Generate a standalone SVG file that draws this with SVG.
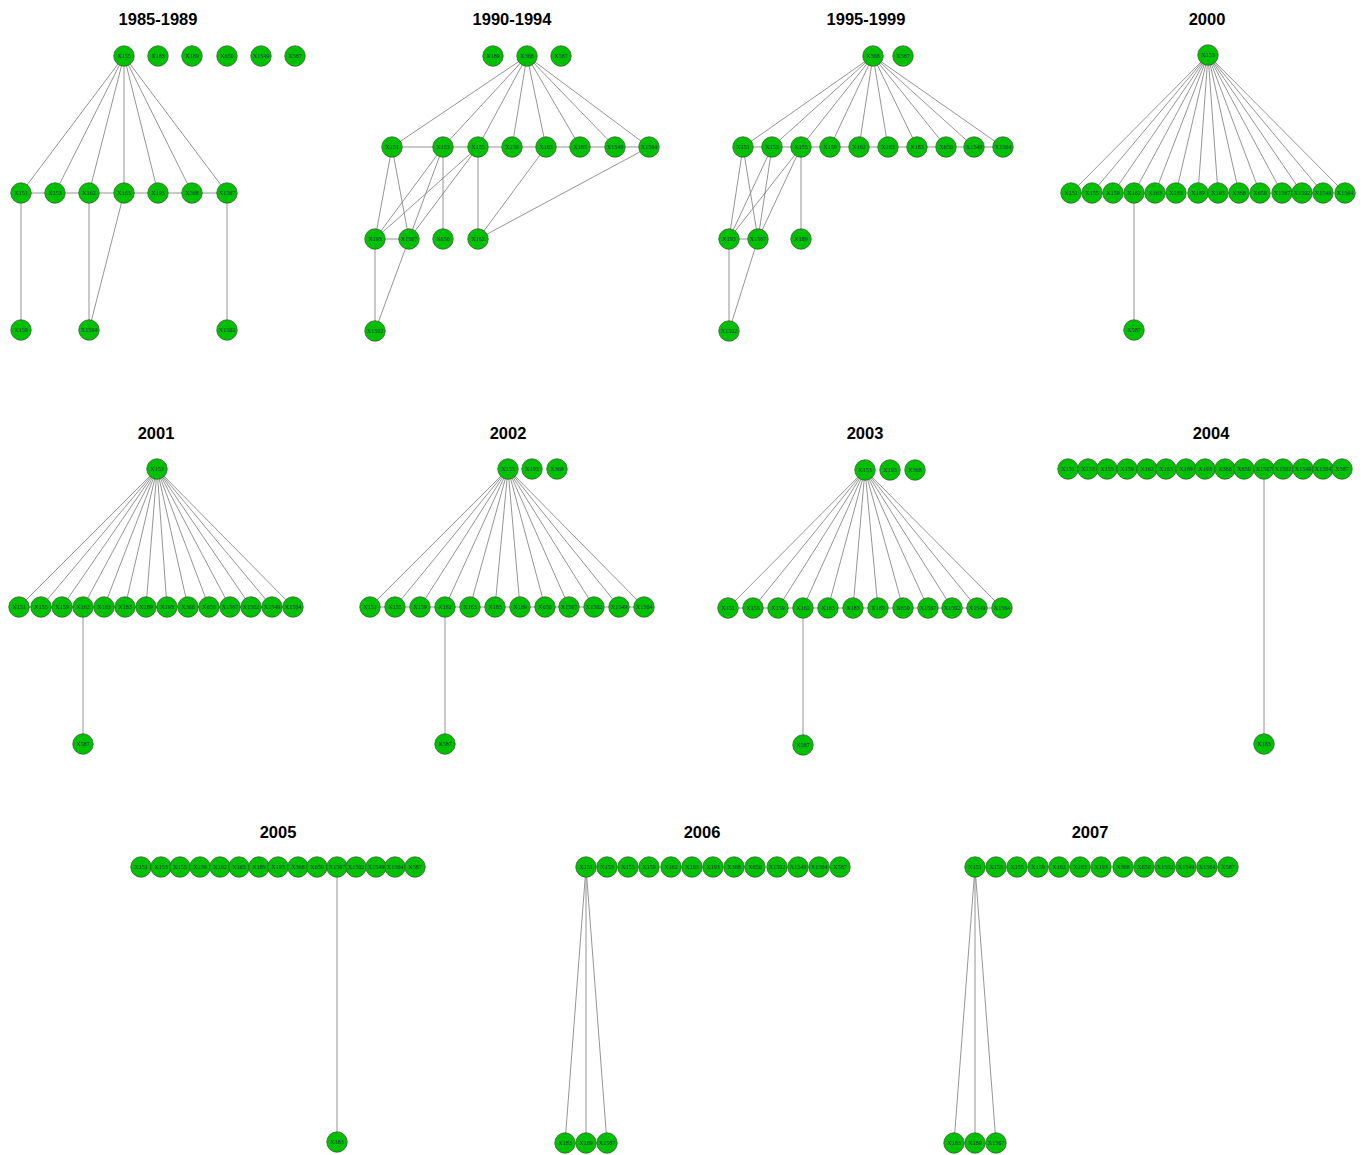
<svg xmlns="http://www.w3.org/2000/svg" width="1365" height="1155" viewBox="0 0 1365 1155">
<style>
.t{font-family:"Liberation Sans",Arial,sans-serif;font-weight:bold;font-size:16.5px;text-anchor:middle;fill:#000}
circle{fill:#00c000;stroke:#3d3d3d;stroke-width:0.6}
.n text{font-family:"Liberation Serif","Times New Roman",serif;font-size:6px;text-anchor:middle;fill:#1f2a5a}
#edges line{stroke:#7a7a7a;stroke-width:0.8}
</style>
<rect width="1365" height="1155" fill="#fff"/>
<g id="titles">
<text class="t" x="158" y="25">1985-1989</text>
<text class="t" x="512" y="25">1990-1994</text>
<text class="t" x="866" y="25">1995-1999</text>
<text class="t" x="1207" y="25">2000</text>
<text class="t" x="156" y="439">2001</text>
<text class="t" x="508" y="439">2002</text>
<text class="t" x="865" y="439">2003</text>
<text class="t" x="1211" y="439">2004</text>
<text class="t" x="278" y="838">2005</text>
<text class="t" x="702" y="838">2006</text>
<text class="t" x="1090" y="838">2007</text>
</g>
<g id="edges">
<line x1="124" y1="56" x2="21" y2="193"/><line x1="124" y1="56" x2="55" y2="193"/><line x1="124" y1="56" x2="89" y2="193"/><line x1="124" y1="56" x2="124" y2="193"/><line x1="124" y1="56" x2="158" y2="193"/><line x1="124" y1="56" x2="192" y2="193"/><line x1="124" y1="56" x2="227" y2="193"/>
<line x1="21" y1="193" x2="227" y2="193"/>
<line x1="21" y1="193" x2="21" y2="330"/><line x1="89" y1="193" x2="89" y2="330"/><line x1="124" y1="193" x2="89" y2="330"/><line x1="227" y1="193" x2="227" y2="330"/>
<line x1="527" y1="56" x2="392" y2="147"/><line x1="527" y1="56" x2="443" y2="147"/><line x1="527" y1="56" x2="478" y2="147"/><line x1="527" y1="56" x2="512" y2="147"/><line x1="527" y1="56" x2="546" y2="147"/><line x1="527" y1="56" x2="580" y2="147"/><line x1="527" y1="56" x2="615" y2="147"/><line x1="527" y1="56" x2="649" y2="147"/>
<line x1="392" y1="147" x2="649" y2="147"/>
<line x1="392" y1="147" x2="375" y2="239"/><line x1="392" y1="147" x2="409" y2="239"/>
<line x1="443" y1="147" x2="375" y2="239"/><line x1="443" y1="147" x2="409" y2="239"/><line x1="443" y1="147" x2="443" y2="239"/>
<line x1="478" y1="147" x2="375" y2="239"/><line x1="478" y1="147" x2="409" y2="239"/><line x1="478" y1="147" x2="478" y2="239"/>
<line x1="546" y1="147" x2="478" y2="239"/><line x1="649" y1="147" x2="478" y2="239"/>
<line x1="375" y1="239" x2="409" y2="239"/><line x1="375" y1="239" x2="375" y2="331"/><line x1="409" y1="239" x2="375" y2="331"/>
<line x1="873" y1="56" x2="743" y2="147"/><line x1="873" y1="56" x2="772" y2="147"/><line x1="873" y1="56" x2="801" y2="147"/><line x1="873" y1="56" x2="830" y2="147"/><line x1="873" y1="56" x2="859" y2="147"/><line x1="873" y1="56" x2="888" y2="147"/><line x1="873" y1="56" x2="917" y2="147"/><line x1="873" y1="56" x2="946" y2="147"/><line x1="873" y1="56" x2="974" y2="147"/><line x1="873" y1="56" x2="1003" y2="147"/>
<line x1="743" y1="147" x2="1003" y2="147"/>
<line x1="743" y1="147" x2="729" y2="239"/><line x1="743" y1="147" x2="758" y2="239"/>
<line x1="772" y1="147" x2="729" y2="239"/><line x1="772" y1="147" x2="758" y2="239"/>
<line x1="801" y1="147" x2="729" y2="239"/><line x1="801" y1="147" x2="758" y2="239"/><line x1="801" y1="147" x2="801" y2="239"/>
<line x1="729" y1="239" x2="758" y2="239"/><line x1="729" y1="239" x2="729" y2="331"/><line x1="758" y1="239" x2="729" y2="331"/>
<line x1="1208" y1="55" x2="1071" y2="193"/><line x1="1208" y1="55" x2="1092" y2="193"/><line x1="1208" y1="55" x2="1113" y2="193"/><line x1="1208" y1="55" x2="1134" y2="193"/><line x1="1208" y1="55" x2="1155" y2="193"/><line x1="1208" y1="55" x2="1176" y2="193"/><line x1="1208" y1="55" x2="1198" y2="193"/><line x1="1208" y1="55" x2="1218" y2="193"/><line x1="1208" y1="55" x2="1239" y2="193"/><line x1="1208" y1="55" x2="1260" y2="193"/><line x1="1208" y1="55" x2="1282" y2="193"/><line x1="1208" y1="55" x2="1302" y2="193"/><line x1="1208" y1="55" x2="1323" y2="193"/><line x1="1208" y1="55" x2="1345" y2="193"/>
<line x1="1134" y1="193" x2="1134" y2="330"/>
<line x1="157" y1="469" x2="19" y2="607"/><line x1="157" y1="469" x2="41" y2="607"/><line x1="157" y1="469" x2="62" y2="607"/><line x1="157" y1="469" x2="83" y2="607"/><line x1="157" y1="469" x2="104" y2="607"/><line x1="157" y1="469" x2="125" y2="607"/><line x1="157" y1="469" x2="146" y2="607"/><line x1="157" y1="469" x2="167" y2="607"/><line x1="157" y1="469" x2="188" y2="607"/><line x1="157" y1="469" x2="209" y2="607"/><line x1="157" y1="469" x2="230" y2="607"/><line x1="157" y1="469" x2="251" y2="607"/><line x1="157" y1="469" x2="272" y2="607"/><line x1="157" y1="469" x2="293" y2="607"/>
<line x1="19" y1="607" x2="293" y2="607"/>
<line x1="83" y1="607" x2="83" y2="744"/>
<line x1="508" y1="469" x2="370" y2="607"/><line x1="508" y1="469" x2="395" y2="607"/><line x1="508" y1="469" x2="420" y2="607"/><line x1="508" y1="469" x2="445" y2="607"/><line x1="508" y1="469" x2="470" y2="607"/><line x1="508" y1="469" x2="495" y2="607"/><line x1="508" y1="469" x2="520" y2="607"/><line x1="508" y1="469" x2="545" y2="607"/><line x1="508" y1="469" x2="569" y2="607"/><line x1="508" y1="469" x2="594" y2="607"/><line x1="508" y1="469" x2="619" y2="607"/><line x1="508" y1="469" x2="644" y2="607"/>
<line x1="370" y1="607" x2="644" y2="607"/>
<line x1="445" y1="607" x2="445" y2="744"/>
<line x1="865" y1="470" x2="728" y2="608"/><line x1="865" y1="470" x2="753" y2="608"/><line x1="865" y1="470" x2="778" y2="608"/><line x1="865" y1="470" x2="803" y2="608"/><line x1="865" y1="470" x2="828" y2="608"/><line x1="865" y1="470" x2="853" y2="608"/><line x1="865" y1="470" x2="878" y2="608"/><line x1="865" y1="470" x2="903" y2="608"/><line x1="865" y1="470" x2="928" y2="608"/><line x1="865" y1="470" x2="952" y2="608"/><line x1="865" y1="470" x2="977" y2="608"/><line x1="865" y1="470" x2="1002" y2="608"/>
<line x1="728" y1="608" x2="1002" y2="608"/>
<line x1="803" y1="608" x2="803" y2="745"/>
<line x1="1264" y1="469" x2="1264" y2="744"/>
<line x1="337" y1="867" x2="337" y2="1142"/>
<line x1="586" y1="867" x2="565" y2="1143"/><line x1="586" y1="867" x2="586" y2="1143"/><line x1="586" y1="867" x2="607" y2="1143"/>
<line x1="975" y1="867" x2="954" y2="1143"/><line x1="975" y1="867" x2="975" y2="1143"/><line x1="975" y1="867" x2="996" y2="1143"/>
</g>
<g id="nodes-1985" class="n">
<g id="p1-X155"><circle cx="124" cy="56" r="10.3"/><text x="124" y="58">X155</text></g>
<g id="p1-X183"><circle cx="158" cy="56" r="10.3"/><text x="158" y="58">X183</text></g>
<g id="p1-X189"><circle cx="192" cy="56" r="10.3"/><text x="192" y="58">X189</text></g>
<g id="p1-X650"><circle cx="227" cy="56" r="10.3"/><text x="227" y="58">X650</text></g>
<g id="p1-X1549"><circle cx="261" cy="56" r="10.3"/><text x="261" y="58">X1549</text></g>
<g id="p1-X587"><circle cx="295" cy="56" r="10.3"/><text x="295" y="58">X587</text></g>
<g id="p1-X151"><circle cx="21" cy="193" r="10.3"/><text x="21" y="195">X151</text></g>
<g id="p1-X153"><circle cx="55" cy="193" r="10.3"/><text x="55" y="195">X153</text></g>
<g id="p1-X162"><circle cx="89" cy="193" r="10.3"/><text x="89" y="195">X162</text></g>
<g id="p1-X163"><circle cx="124" cy="193" r="10.3"/><text x="124" y="195">X163</text></g>
<g id="p1-X193"><circle cx="158" cy="193" r="10.3"/><text x="158" y="195">X193</text></g>
<g id="p1-X368"><circle cx="192" cy="193" r="10.3"/><text x="192" y="195">X368</text></g>
<g id="p1-X1567"><circle cx="227" cy="193" r="10.3"/><text x="227" y="195">X1567</text></g>
<g id="p1-X159"><circle cx="21" cy="330" r="10.3"/><text x="21" y="332">X159</text></g>
<g id="p1-X1564"><circle cx="89" cy="330" r="10.3"/><text x="89" y="332">X1564</text></g>
<g id="p1-X1502"><circle cx="227" cy="330" r="10.3"/><text x="227" y="332">X1502</text></g>
</g>
<g id="nodes-1990" class="n">
<g id="p2-X189"><circle cx="493" cy="56" r="10.3"/><text x="493" y="58">X189</text></g>
<g id="p2-X368"><circle cx="527" cy="56" r="10.3"/><text x="527" y="58">X368</text></g>
<g id="p2-X587"><circle cx="561" cy="56" r="10.3"/><text x="561" y="58">X587</text></g>
<g id="p2-X151"><circle cx="392" cy="147" r="10.3"/><text x="392" y="149">X151</text></g>
<g id="p2-X153"><circle cx="443" cy="147" r="10.3"/><text x="443" y="149">X153</text></g>
<g id="p2-X155"><circle cx="478" cy="147" r="10.3"/><text x="478" y="149">X155</text></g>
<g id="p2-X159"><circle cx="512" cy="147" r="10.3"/><text x="512" y="149">X159</text></g>
<g id="p2-X163"><circle cx="546" cy="147" r="10.3"/><text x="546" y="149">X163</text></g>
<g id="p2-X183"><circle cx="580" cy="147" r="10.3"/><text x="580" y="149">X183</text></g>
<g id="p2-X1549"><circle cx="615" cy="147" r="10.3"/><text x="615" y="149">X1549</text></g>
<g id="p2-X1564"><circle cx="649" cy="147" r="10.3"/><text x="649" y="149">X1564</text></g>
<g id="p2-X193"><circle cx="375" cy="239" r="10.3"/><text x="375" y="241">X193</text></g>
<g id="p2-X1567"><circle cx="409" cy="239" r="10.3"/><text x="409" y="241">X1567</text></g>
<g id="p2-X650"><circle cx="443" cy="239" r="10.3"/><text x="443" y="241">X650</text></g>
<g id="p2-X162"><circle cx="478" cy="239" r="10.3"/><text x="478" y="241">X162</text></g>
<g id="p2-X1502"><circle cx="375" cy="331" r="10.3"/><text x="375" y="333">X1502</text></g>
</g>
<g id="nodes-1995" class="n">
<g id="p3-X368"><circle cx="873" cy="56" r="10.3"/><text x="873" y="58">X368</text></g>
<g id="p3-X587"><circle cx="903" cy="56" r="10.3"/><text x="903" y="58">X587</text></g>
<g id="p3-X151"><circle cx="743" cy="147" r="10.3"/><text x="743" y="149">X151</text></g>
<g id="p3-X153"><circle cx="772" cy="147" r="10.3"/><text x="772" y="149">X153</text></g>
<g id="p3-X155"><circle cx="801" cy="147" r="10.3"/><text x="801" y="149">X155</text></g>
<g id="p3-X159"><circle cx="830" cy="147" r="10.3"/><text x="830" y="149">X159</text></g>
<g id="p3-X162"><circle cx="859" cy="147" r="10.3"/><text x="859" y="149">X162</text></g>
<g id="p3-X163"><circle cx="888" cy="147" r="10.3"/><text x="888" y="149">X163</text></g>
<g id="p3-X183"><circle cx="917" cy="147" r="10.3"/><text x="917" y="149">X183</text></g>
<g id="p3-X650"><circle cx="946" cy="147" r="10.3"/><text x="946" y="149">X650</text></g>
<g id="p3-X1549"><circle cx="974" cy="147" r="10.3"/><text x="974" y="149">X1549</text></g>
<g id="p3-X1564"><circle cx="1003" cy="147" r="10.3"/><text x="1003" y="149">X1564</text></g>
<g id="p3-X193"><circle cx="729" cy="239" r="10.3"/><text x="729" y="241">X193</text></g>
<g id="p3-X1567"><circle cx="758" cy="239" r="10.3"/><text x="758" y="241">X1567</text></g>
<g id="p3-X189"><circle cx="801" cy="239" r="10.3"/><text x="801" y="241">X189</text></g>
<g id="p3-X1502"><circle cx="729" cy="331" r="10.3"/><text x="729" y="333">X1502</text></g>
</g>
<g id="nodes-2000" class="n">
<g id="p4-X153"><circle cx="1208" cy="55" r="10.3"/><text x="1208" y="57">X153</text></g>
<g id="p4-X151"><circle cx="1071" cy="193" r="10.3"/><text x="1071" y="195">X151</text></g>
<g id="p4-X155"><circle cx="1092" cy="193" r="10.3"/><text x="1092" y="195">X155</text></g>
<g id="p4-X159"><circle cx="1113" cy="193" r="10.3"/><text x="1113" y="195">X159</text></g>
<g id="p4-X162"><circle cx="1134" cy="193" r="10.3"/><text x="1134" y="195">X162</text></g>
<g id="p4-X163"><circle cx="1155" cy="193" r="10.3"/><text x="1155" y="195">X163</text></g>
<g id="p4-X183"><circle cx="1176" cy="193" r="10.3"/><text x="1176" y="195">X183</text></g>
<g id="p4-X189"><circle cx="1198" cy="193" r="10.3"/><text x="1198" y="195">X189</text></g>
<g id="p4-X193"><circle cx="1218" cy="193" r="10.3"/><text x="1218" y="195">X193</text></g>
<g id="p4-X368"><circle cx="1239" cy="193" r="10.3"/><text x="1239" y="195">X368</text></g>
<g id="p4-X650"><circle cx="1260" cy="193" r="10.3"/><text x="1260" y="195">X650</text></g>
<g id="p4-X1567"><circle cx="1282" cy="193" r="10.3"/><text x="1282" y="195">X1567</text></g>
<g id="p4-X1502"><circle cx="1302" cy="193" r="10.3"/><text x="1302" y="195">X1502</text></g>
<g id="p4-X1549"><circle cx="1323" cy="193" r="10.3"/><text x="1323" y="195">X1549</text></g>
<g id="p4-X1564"><circle cx="1345" cy="193" r="10.3"/><text x="1345" y="195">X1564</text></g>
<g id="p4-X587"><circle cx="1134" cy="330" r="10.3"/><text x="1134" y="332">X587</text></g>
</g>
<g id="nodes-2001" class="n">
<g id="p5-X153"><circle cx="157" cy="469" r="10.3"/><text x="157" y="471">X153</text></g>
<g id="p5-X151"><circle cx="19" cy="607" r="10.3"/><text x="19" y="609">X151</text></g>
<g id="p5-X155"><circle cx="41" cy="607" r="10.3"/><text x="41" y="609">X155</text></g>
<g id="p5-X159"><circle cx="62" cy="607" r="10.3"/><text x="62" y="609">X159</text></g>
<g id="p5-X162"><circle cx="83" cy="607" r="10.3"/><text x="83" y="609">X162</text></g>
<g id="p5-X163"><circle cx="104" cy="607" r="10.3"/><text x="104" y="609">X163</text></g>
<g id="p5-X183"><circle cx="125" cy="607" r="10.3"/><text x="125" y="609">X183</text></g>
<g id="p5-X189"><circle cx="146" cy="607" r="10.3"/><text x="146" y="609">X189</text></g>
<g id="p5-X193"><circle cx="167" cy="607" r="10.3"/><text x="167" y="609">X193</text></g>
<g id="p5-X368"><circle cx="188" cy="607" r="10.3"/><text x="188" y="609">X368</text></g>
<g id="p5-X650"><circle cx="209" cy="607" r="10.3"/><text x="209" y="609">X650</text></g>
<g id="p5-X1567"><circle cx="230" cy="607" r="10.3"/><text x="230" y="609">X1567</text></g>
<g id="p5-X1502"><circle cx="251" cy="607" r="10.3"/><text x="251" y="609">X1502</text></g>
<g id="p5-X1549"><circle cx="272" cy="607" r="10.3"/><text x="272" y="609">X1549</text></g>
<g id="p5-X1564"><circle cx="293" cy="607" r="10.3"/><text x="293" y="609">X1564</text></g>
<g id="p5-X587"><circle cx="83" cy="744" r="10.3"/><text x="83" y="746">X587</text></g>
</g>
<g id="nodes-2002" class="n">
<g id="p6-X153"><circle cx="508" cy="469" r="10.3"/><text x="508" y="471">X153</text></g>
<g id="p6-X193"><circle cx="532" cy="469" r="10.3"/><text x="532" y="471">X193</text></g>
<g id="p6-X368"><circle cx="557" cy="469" r="10.3"/><text x="557" y="471">X368</text></g>
<g id="p6-X151"><circle cx="370" cy="607" r="10.3"/><text x="370" y="609">X151</text></g>
<g id="p6-X155"><circle cx="395" cy="607" r="10.3"/><text x="395" y="609">X155</text></g>
<g id="p6-X159"><circle cx="420" cy="607" r="10.3"/><text x="420" y="609">X159</text></g>
<g id="p6-X162"><circle cx="445" cy="607" r="10.3"/><text x="445" y="609">X162</text></g>
<g id="p6-X163"><circle cx="470" cy="607" r="10.3"/><text x="470" y="609">X163</text></g>
<g id="p6-X183"><circle cx="495" cy="607" r="10.3"/><text x="495" y="609">X183</text></g>
<g id="p6-X189"><circle cx="520" cy="607" r="10.3"/><text x="520" y="609">X189</text></g>
<g id="p6-X650"><circle cx="545" cy="607" r="10.3"/><text x="545" y="609">X650</text></g>
<g id="p6-X1567"><circle cx="569" cy="607" r="10.3"/><text x="569" y="609">X1567</text></g>
<g id="p6-X1502"><circle cx="594" cy="607" r="10.3"/><text x="594" y="609">X1502</text></g>
<g id="p6-X1549"><circle cx="619" cy="607" r="10.3"/><text x="619" y="609">X1549</text></g>
<g id="p6-X1564"><circle cx="644" cy="607" r="10.3"/><text x="644" y="609">X1564</text></g>
<g id="p6-X587"><circle cx="445" cy="744" r="10.3"/><text x="445" y="746">X587</text></g>
</g>
<g id="nodes-2003" class="n">
<g id="p7-X153"><circle cx="865" cy="470" r="10.3"/><text x="865" y="472">X153</text></g>
<g id="p7-X193"><circle cx="890" cy="470" r="10.3"/><text x="890" y="472">X193</text></g>
<g id="p7-X368"><circle cx="915" cy="470" r="10.3"/><text x="915" y="472">X368</text></g>
<g id="p7-X151"><circle cx="728" cy="608" r="10.3"/><text x="728" y="610">X151</text></g>
<g id="p7-X155"><circle cx="753" cy="608" r="10.3"/><text x="753" y="610">X155</text></g>
<g id="p7-X159"><circle cx="778" cy="608" r="10.3"/><text x="778" y="610">X159</text></g>
<g id="p7-X162"><circle cx="803" cy="608" r="10.3"/><text x="803" y="610">X162</text></g>
<g id="p7-X163"><circle cx="828" cy="608" r="10.3"/><text x="828" y="610">X163</text></g>
<g id="p7-X183"><circle cx="853" cy="608" r="10.3"/><text x="853" y="610">X183</text></g>
<g id="p7-X189"><circle cx="878" cy="608" r="10.3"/><text x="878" y="610">X189</text></g>
<g id="p7-X650"><circle cx="903" cy="608" r="10.3"/><text x="903" y="610">X650</text></g>
<g id="p7-X1567"><circle cx="928" cy="608" r="10.3"/><text x="928" y="610">X1567</text></g>
<g id="p7-X1502"><circle cx="952" cy="608" r="10.3"/><text x="952" y="610">X1502</text></g>
<g id="p7-X1549"><circle cx="977" cy="608" r="10.3"/><text x="977" y="610">X1549</text></g>
<g id="p7-X1564"><circle cx="1002" cy="608" r="10.3"/><text x="1002" y="610">X1564</text></g>
<g id="p7-X587"><circle cx="803" cy="745" r="10.3"/><text x="803" y="747">X587</text></g>
</g>
<g id="nodes-2004" class="n">
<g id="p8-X151"><circle cx="1068" cy="469" r="10.3"/><text x="1068" y="471">X151</text></g>
<g id="p8-X153"><circle cx="1088" cy="469" r="10.3"/><text x="1088" y="471">X153</text></g>
<g id="p8-X155"><circle cx="1107" cy="469" r="10.3"/><text x="1107" y="471">X155</text></g>
<g id="p8-X159"><circle cx="1127" cy="469" r="10.3"/><text x="1127" y="471">X159</text></g>
<g id="p8-X162"><circle cx="1147" cy="469" r="10.3"/><text x="1147" y="471">X162</text></g>
<g id="p8-X163"><circle cx="1166" cy="469" r="10.3"/><text x="1166" y="471">X163</text></g>
<g id="p8-X189"><circle cx="1186" cy="469" r="10.3"/><text x="1186" y="471">X189</text></g>
<g id="p8-X193"><circle cx="1205" cy="469" r="10.3"/><text x="1205" y="471">X193</text></g>
<g id="p8-X368"><circle cx="1225" cy="469" r="10.3"/><text x="1225" y="471">X368</text></g>
<g id="p8-X650"><circle cx="1244" cy="469" r="10.3"/><text x="1244" y="471">X650</text></g>
<g id="p8-X1567"><circle cx="1264" cy="469" r="10.3"/><text x="1264" y="471">X1567</text></g>
<g id="p8-X1502"><circle cx="1283" cy="469" r="10.3"/><text x="1283" y="471">X1502</text></g>
<g id="p8-X1549"><circle cx="1303" cy="469" r="10.3"/><text x="1303" y="471">X1549</text></g>
<g id="p8-X1564"><circle cx="1323" cy="469" r="10.3"/><text x="1323" y="471">X1564</text></g>
<g id="p8-X587"><circle cx="1342" cy="469" r="10.3"/><text x="1342" y="471">X587</text></g>
<g id="p8-X183"><circle cx="1264" cy="744" r="10.3"/><text x="1264" y="746">X183</text></g>
</g>
<g id="nodes-2005" class="n">
<g id="p9-X151"><circle cx="141" cy="867" r="10.3"/><text x="141" y="869">X151</text></g>
<g id="p9-X153"><circle cx="161" cy="867" r="10.3"/><text x="161" y="869">X153</text></g>
<g id="p9-X155"><circle cx="180" cy="867" r="10.3"/><text x="180" y="869">X155</text></g>
<g id="p9-X159"><circle cx="200" cy="867" r="10.3"/><text x="200" y="869">X159</text></g>
<g id="p9-X162"><circle cx="220" cy="867" r="10.3"/><text x="220" y="869">X162</text></g>
<g id="p9-X163"><circle cx="239" cy="867" r="10.3"/><text x="239" y="869">X163</text></g>
<g id="p9-X189"><circle cx="259" cy="867" r="10.3"/><text x="259" y="869">X189</text></g>
<g id="p9-X193"><circle cx="278" cy="867" r="10.3"/><text x="278" y="869">X193</text></g>
<g id="p9-X368"><circle cx="298" cy="867" r="10.3"/><text x="298" y="869">X368</text></g>
<g id="p9-X650"><circle cx="317" cy="867" r="10.3"/><text x="317" y="869">X650</text></g>
<g id="p9-X1567"><circle cx="337" cy="867" r="10.3"/><text x="337" y="869">X1567</text></g>
<g id="p9-X1502"><circle cx="356" cy="867" r="10.3"/><text x="356" y="869">X1502</text></g>
<g id="p9-X1549"><circle cx="376" cy="867" r="10.3"/><text x="376" y="869">X1549</text></g>
<g id="p9-X1564"><circle cx="395" cy="867" r="10.3"/><text x="395" y="869">X1564</text></g>
<g id="p9-X587"><circle cx="415" cy="867" r="10.3"/><text x="415" y="869">X587</text></g>
<g id="p9-X183"><circle cx="337" cy="1142" r="10.3"/><text x="337" y="1144">X183</text></g>
</g>
<g id="nodes-2006" class="n">
<g id="p10-X151"><circle cx="586" cy="867" r="10.3"/><text x="586" y="869">X151</text></g>
<g id="p10-X153"><circle cx="607" cy="867" r="10.3"/><text x="607" y="869">X153</text></g>
<g id="p10-X155"><circle cx="628" cy="867" r="10.3"/><text x="628" y="869">X155</text></g>
<g id="p10-X159"><circle cx="649" cy="867" r="10.3"/><text x="649" y="869">X159</text></g>
<g id="p10-X162"><circle cx="671" cy="867" r="10.3"/><text x="671" y="869">X162</text></g>
<g id="p10-X163"><circle cx="692" cy="867" r="10.3"/><text x="692" y="869">X163</text></g>
<g id="p10-X193"><circle cx="713" cy="867" r="10.3"/><text x="713" y="869">X193</text></g>
<g id="p10-X368"><circle cx="734" cy="867" r="10.3"/><text x="734" y="869">X368</text></g>
<g id="p10-X650"><circle cx="755" cy="867" r="10.3"/><text x="755" y="869">X650</text></g>
<g id="p10-X1502"><circle cx="777" cy="867" r="10.3"/><text x="777" y="869">X1502</text></g>
<g id="p10-X1549"><circle cx="798" cy="867" r="10.3"/><text x="798" y="869">X1549</text></g>
<g id="p10-X1564"><circle cx="819" cy="867" r="10.3"/><text x="819" y="869">X1564</text></g>
<g id="p10-X587"><circle cx="840" cy="867" r="10.3"/><text x="840" y="869">X587</text></g>
<g id="p10-X183"><circle cx="565" cy="1143" r="10.3"/><text x="565" y="1145">X183</text></g>
<g id="p10-X189"><circle cx="586" cy="1143" r="10.3"/><text x="586" y="1145">X189</text></g>
<g id="p10-X1567"><circle cx="607" cy="1143" r="10.3"/><text x="607" y="1145">X1567</text></g>
</g>
<g id="nodes-2007" class="n">
<g id="p11-X151"><circle cx="975" cy="867" r="10.3"/><text x="975" y="869">X151</text></g>
<g id="p11-X153"><circle cx="996" cy="867" r="10.3"/><text x="996" y="869">X153</text></g>
<g id="p11-X155"><circle cx="1017" cy="867" r="10.3"/><text x="1017" y="869">X155</text></g>
<g id="p11-X159"><circle cx="1038" cy="867" r="10.3"/><text x="1038" y="869">X159</text></g>
<g id="p11-X162"><circle cx="1059" cy="867" r="10.3"/><text x="1059" y="869">X162</text></g>
<g id="p11-X163"><circle cx="1080" cy="867" r="10.3"/><text x="1080" y="869">X163</text></g>
<g id="p11-X193"><circle cx="1101" cy="867" r="10.3"/><text x="1101" y="869">X193</text></g>
<g id="p11-X368"><circle cx="1123" cy="867" r="10.3"/><text x="1123" y="869">X368</text></g>
<g id="p11-X650"><circle cx="1144" cy="867" r="10.3"/><text x="1144" y="869">X650</text></g>
<g id="p11-X1502"><circle cx="1165" cy="867" r="10.3"/><text x="1165" y="869">X1502</text></g>
<g id="p11-X1549"><circle cx="1186" cy="867" r="10.3"/><text x="1186" y="869">X1549</text></g>
<g id="p11-X1564"><circle cx="1207" cy="867" r="10.3"/><text x="1207" y="869">X1564</text></g>
<g id="p11-X587"><circle cx="1228" cy="867" r="10.3"/><text x="1228" y="869">X587</text></g>
<g id="p11-X183"><circle cx="954" cy="1143" r="10.3"/><text x="954" y="1145">X183</text></g>
<g id="p11-X189"><circle cx="975" cy="1143" r="10.3"/><text x="975" y="1145">X189</text></g>
<g id="p11-X1567"><circle cx="996" cy="1143" r="10.3"/><text x="996" y="1145">X1567</text></g>
</g>
</svg>
